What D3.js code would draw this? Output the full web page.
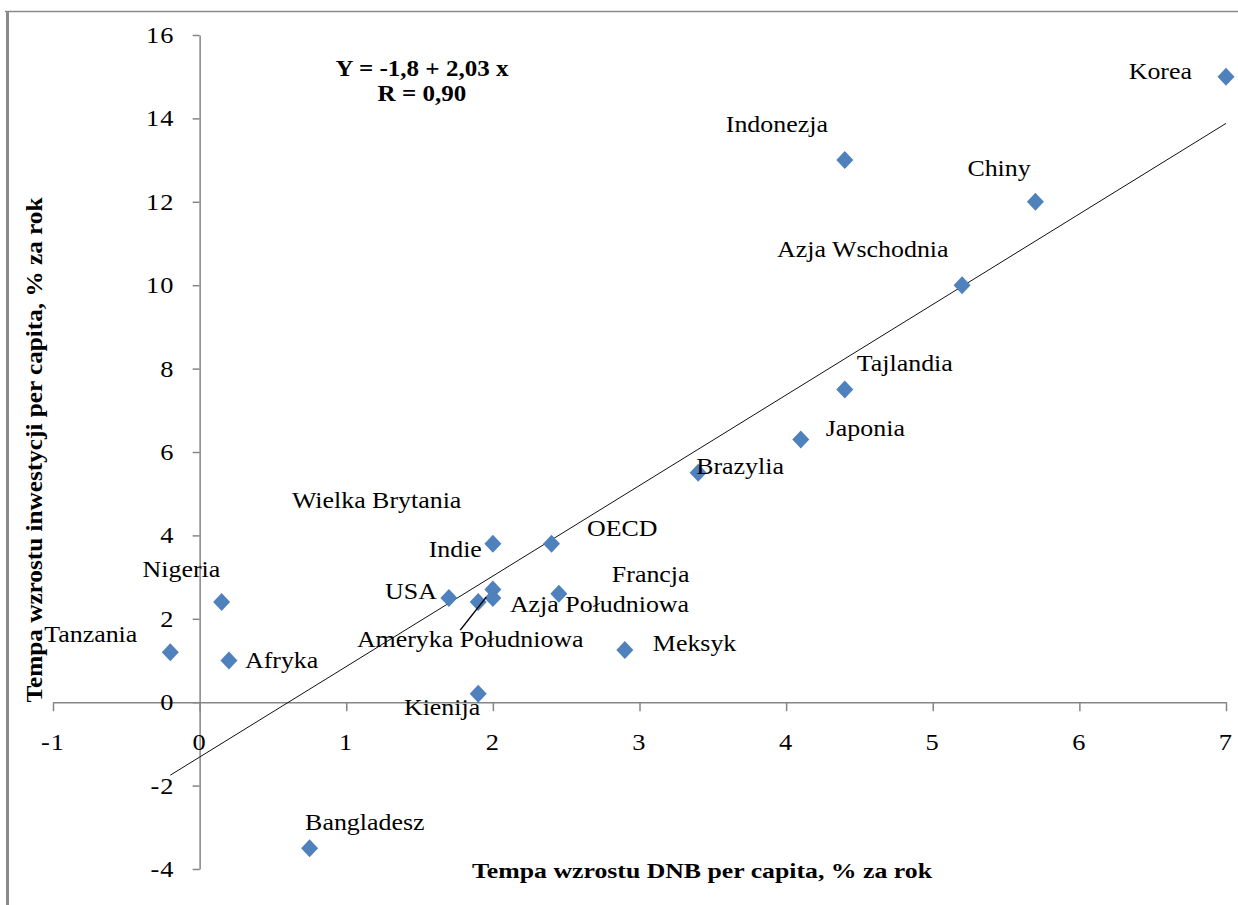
<!DOCTYPE html>
<html>
<head>
<meta charset="utf-8">
<script src="https://cdn.jsdelivr.net/npm/d3@7"></script>
<style>
  html, body { margin: 0; padding: 0; background: #fff; }
  svg { display: block; font-family: "Liberation Serif", "Times New Roman", serif; }
</style>
</head>
<body>
<svg id="chart" width="1238" height="905"></svg>
<script>
// ---- data ----
const countries = ["Korea", "Indonezja", "Chiny", "Azja Wschodnia", "Tajlandia", "Japonia", "Brazylia",
  "Wielka Brytania", "Indie", "OECD", "Francja", "USA", "Azja Południowa", "Ameryka Południowa",
  "Meksyk", "Kienija", "Nigeria", "Tanzania", "Afryka", "Bangladesz"];
const gnpGrowth = [7.0, 4.4, 5.7, 5.2, 4.4, 4.1, 3.4, 2.0, 2.0, 2.4, 2.45, 1.7, 2.0, 1.9, 2.9, 1.9, 0.15, -0.2, 0.2, 0.75];
const investGrowth = [15.0, 13.0, 12.0, 10.0, 7.5, 6.3, 5.5, 2.7, 3.8, 3.8, 2.6, 2.5, 2.5, 2.4, 1.25, 0.2, 2.4, 1.2, 1.0, -3.5];
const xTicks = [-1, 0, 1, 2, 3, 4, 5, 6, 7];
const yTicks = [-4, -2, 0, 2, 4, 6, 8, 10, 12, 14, 16];
const trendX = [-0.2, 7.0];
const trendY = [-1.75, 13.88];
const equationLines = ["Y = -1,8 + 2,03 x", "R = 0,90"];
const xTitle = "Tempa wzrostu DNB per capita, % za rok";
const yTitle = "Tempa wzrostu inwestycji per capita, % za rok";

// ---- label layout (pixel offsets from the marker) ----
const labelLayout = {
  "Korea": {dx: -34, dy: 2, anchor: "end"},
  "Indonezja": {dx: -119, dy: -28, anchor: "start"},
  "Chiny": {dx: -68, dy: -26, anchor: "start"},
  "Azja Wschodnia": {dx: -185, dy: -28, anchor: "start"},
  "Tajlandia": {dx: 12, dy: -18, anchor: "start"},
  "Japonia": {dx: 25, dy: -3.5, anchor: "start"},
  "Brazylia": {dx: -2, dy: 1, anchor: "start"},
  "Wielka Brytania": {dx: -201, dy: -82, anchor: "start"},
  "Indie": {dx: -11, dy: 13.5, anchor: "end"},
  "OECD": {dx: 35.5, dy: -7.5, anchor: "start"},
  "Francja": {dx: 53, dy: -12, anchor: "start"},
  "USA": {dx: -12, dy: 1, anchor: "end"},
  "Azja Południowa": {dx: 17, dy: 14.5, anchor: "start"},
  "Ameryka Południowa": {dx: -8, dy: 45, anchor: "middle", leader: [-18, 28, 8, -5]},
  "Meksyk": {dx: 28, dy: 1, anchor: "start"},
  "Kienija": {dx: 2, dy: 21, anchor: "end"},
  "Nigeria": {dx: -79, dy: -25, anchor: "start"},
  "Tanzania": {dx: -33, dy: -10, anchor: "end"},
  "Afryka": {dx: 16, dy: 7.5, anchor: "start"},
  "Bangladesz": {dx: -4.5, dy: -18, anchor: "start"}
};

const SX = 1.08;           // horizontal stretch of the reference's text
const AXIS = "#868686";
const MARK = "#4F81BD";

const svg = d3.select("#chart");
const points = countries.map((c, i) => ({name: c, x: gnpGrowth[i], y: investGrowth[i]}));

const x = d3.scaleLinear().domain([-1, 7]).range([53, 1226]);
const y = d3.scaleLinear().domain([-4, 16]).range([869, 35]);

function stext(g, px, py, str, anchor, size, weight, sx) {
  return g.append("text")
    .attr("transform", `translate(${px},${py}) scale(${sx || SX},1)`)
    .attr("text-anchor", anchor)
    .attr("font-size", size)
    .attr("font-weight", weight || "normal")
    .attr("fill", "#000")
    .text(str);
}

// frame
svg.append("line").attr("x1", 5).attr("x2", 1238).attr("y1", 11.5).attr("y2", 11.5)
  .attr("stroke", "#8a8a8a").attr("stroke-width", 1.5);
svg.append("line").attr("x1", 7.5).attr("x2", 7.5).attr("y1", 11).attr("y2", 905)
  .attr("stroke", "#8a8a8a").attr("stroke-width", 3);

// y axis
const yAxisG = svg.append("g").attr("transform", `translate(${x(0)},0)`)
  .call(d3.axisLeft(y).tickValues(yTicks).tickSize(7).tickSizeOuter(0).tickFormat(""));
yAxisG.select(".domain").attr("stroke", AXIS).attr("stroke-width", 1.5);
yAxisG.selectAll(".tick line").attr("stroke", AXIS).attr("stroke-width", 1.5);

// x axis at y = 0
const xAxisG = svg.append("g").attr("transform", `translate(0,${y(0)})`)
  .call(d3.axisBottom(x).tickValues(xTicks).tickSize(9).tickSizeOuter(0).tickFormat(""));
xAxisG.select(".domain").attr("stroke", AXIS).attr("stroke-width", 1.5);
xAxisG.selectAll(".tick line").attr("stroke", AXIS).attr("stroke-width", 1.5);

// tick labels
const tl = svg.append("g").attr("letter-spacing", 1);
yTicks.forEach(v => stext(tl, x(0) - 25, y(v) + 8, String(v), "end", 24, "normal", 1.1));
xTicks.forEach(v => stext(tl, x(v), y(0) + 48, String(v), "middle", 24, "normal", 1.1));

// trend line
svg.append("line")
  .attr("x1", x(trendX[0])).attr("y1", y(trendY[0]))
  .attr("x2", x(trendX[1])).attr("y2", y(trendY[1]))
  .attr("stroke", "#111").attr("stroke-width", 1);

// markers
svg.append("g").selectAll("path").data(points).join("path")
  .attr("transform", d => `translate(${x(d.x)},${y(d.y)})`)
  .attr("d", "M0,-9L8.5,0L0,9L-8.5,0Z")
  .attr("fill", MARK);

// leader lines
points.forEach(p => {
  const L = labelLayout[p.name];
  if (L && L.leader) {
    svg.append("line")
      .attr("x1", x(p.x) + L.leader[0]).attr("y1", y(p.y) + L.leader[1])
      .attr("x2", x(p.x) + L.leader[2]).attr("y2", y(p.y) + L.leader[3])
      .attr("stroke", "#000").attr("stroke-width", 1.5);
  }
});

// data labels
const lg = svg.append("g");
points.forEach(p => {
  const L = labelLayout[p.name];
  stext(lg, x(p.x) + L.dx, y(p.y) + L.dy, p.name, L.anchor, 24);
});

// equation
const eq = svg.append("g");
equationLines.forEach((t, i) => stext(eq, 422, 76 + i * 24.7, t, "middle", 23, "bold", 1.09));

// axis titles
svg.append("text")
  .attr("x", 702).attr("y", 878)
  .attr("text-anchor", "middle")
  .attr("font-size", 22).attr("font-weight", "bold")
  .attr("textLength", 460).attr("lengthAdjust", "spacingAndGlyphs")
  .text(xTitle);

svg.append("text")
  .attr("transform", `translate(42,450) rotate(-90)`)
  .attr("text-anchor", "middle")
  .attr("font-size", 23).attr("font-weight", "bold")
  .attr("textLength", 505).attr("lengthAdjust", "spacingAndGlyphs")
  .text(yTitle);
</script>
</body>
</html>
